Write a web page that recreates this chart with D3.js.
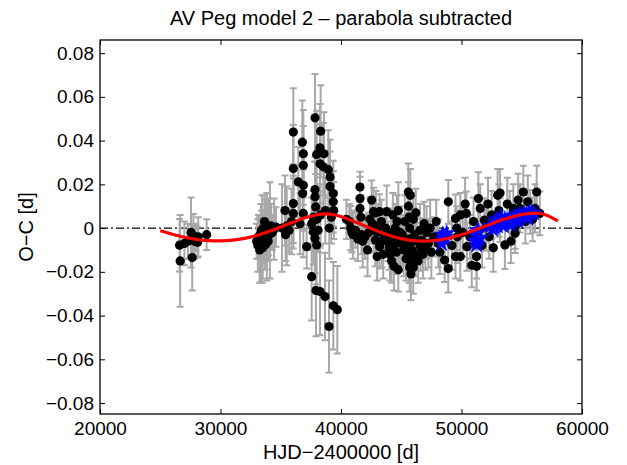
<!DOCTYPE html>
<html>
<head>
<meta charset="utf-8">
<script src="https://cdn.jsdelivr.net/npm/d3@7"></script>
<style>
  html, body { margin: 0; padding: 0; background: #fff; }
  svg { display: block; }
  text { font-family: "Liberation Sans", Arial, Helvetica, sans-serif; fill: #000; }
</style>
</head>
<body>
<svg></svg>
<script>
// Observed minus calculated timings, one row per minimum: [HJD-2400000, O-C, error]
const earlyVisual = [
  [26600, -0.0078, 0.012], [26650, -0.0150, 0.021], [27000, -0.0070, 0.010],
  [27300, -0.0060, 0.008], [27550, -0.0020, 0.016], [27650, -0.0135, 0.015],
  [27750, -0.0035, 0.010], [27850, -0.0060, 0.008], [27950, -0.0045, 0.006],
  [28100, -0.0065, 0.007], [28150, -0.0040, 0.009], [28850, -0.0030, 0.007]
];

const photographic = [
  [33000, -0.0060, 0.008], [33100, -0.0080, 0.012], [33150, -0.0040, 0.010],
  [33250, -0.0100, 0.015], [33300, -0.0030, 0.006], [33350, -0.0070, 0.018],
  [33400, -0.0010, 0.009], [33450, -0.0050, 0.020], [33500, -0.0090, 0.014],
  [33550, 0.0000, 0.008], [33600, -0.0060, 0.010], [33650, 0.0030, 0.012],
  [33700, -0.0030, 0.016], [33750, -0.0075, 0.007], [33800, 0.0010, 0.010],
  [33850, -0.0040, 0.020], [33900, -0.0020, 0.011], [33950, -0.0060, 0.009],
  [34000, 0.0005, 0.013], [34050, -0.0030, 0.006], [34100, -0.0010, 0.022],
  [34200, 0.0010, 0.010], [34300, -0.0020, 0.008], [34450, -0.0005, 0.014],
  [34600, 0.0005, 0.009], [35100, 0.0000, 0.020], [35350, 0.0080, 0.016],
  [35500, 0.0010, 0.018], [35400, -0.0030, 0.012], [35700, -0.0010, 0.010]
];

const scattered = [
  [36044, 0.0439, 0.020], [36044, 0.0272, 0.020], [36044, 0.0112, 0.018],
  [36044, 0.0067, 0.016], [35900, 0.0030, 0.015], [36790, 0.0393, 0.019],
  [36874, 0.0340, 0.020], [36874, 0.0287, 0.018], [36459, 0.0211, 0.016],
  [36874, 0.0196, 0.020], [36820, 0.0158, 0.017], [36874, 0.0067, 0.020],
  [36600, 0.0020, 0.014], [37150, -0.0085, 0.010], [37842, 0.0504, 0.020],
  [38312, 0.0443, 0.021], [38256, 0.0367, 0.020], [37980, 0.0337, 0.020],
  [38590, 0.0340, 0.019], [38256, 0.0294, 0.018], [38533, 0.0280, 0.020],
  [38950, 0.0267, 0.018], [39090, 0.0234, 0.017], [37842, 0.0176, 0.015],
  [37842, 0.0143, 0.016], [37900, 0.0097, 0.015], [39090, 0.0190, 0.016],
  [39363, 0.0158, 0.015], [39363, 0.0120, 0.014], [37565, 0.0020, 0.012],
  [37700, -0.0017, 0.015], [37842, -0.0047, 0.016], [37980, -0.0077, 0.018],
  [39030, 0.0000, 0.014], [38000, 0.0040, 0.012], [38300, 0.0060, 0.014],
  [38700, 0.0080, 0.015], [39200, 0.0050, 0.012], [38100, -0.0010, 0.010],
  [37700, 0.0050, 0.012], [39400, 0.0080, 0.013], [37565, -0.0222, 0.020],
  [37925, -0.0285, 0.021], [38256, -0.0290, 0.020], [38672, -0.0313, 0.020],
  [39363, -0.0355, 0.020], [39695, -0.0373, 0.020], [39003, -0.0450, 0.021]
];

const photoelectric = [
  [41576, 0.0188, 0.007], [41576, 0.0135, 0.010], [41576, 0.0090, 0.011],
  [41650, 0.0050, 0.010], [40450, 0.0040, 0.009], [40700, 0.0030, 0.008],
  [40800, 0.0000, 0.010], [40900, -0.0020, 0.009], [41000, -0.0030, 0.011],
  [41200, -0.0010, 0.008], [41400, -0.0050, 0.010], [41700, -0.0030, 0.009],
  [41800, -0.0060, 0.012], [42000, -0.0040, 0.010], [42300, -0.0020, 0.009],
  [42545, 0.0128, 0.009], [42700, 0.0075, 0.011], [42900, 0.0070, 0.010],
  [43200, 0.0075, 0.008], [42700, -0.0010, 0.010], [42850, -0.0055, 0.012],
  [43200, -0.0085, 0.010], [43500, -0.0120, 0.011], [43790, 0.0075, 0.012],
  [43600, -0.0030, 0.010], [43900, -0.0060, 0.009], [44066, -0.0120, 0.012],
  [44300, -0.0040, 0.010], [44500, 0.0000, 0.011], [44757, 0.0080, 0.013],
  [44757, -0.0190, 0.010], [44900, -0.0020, 0.012], [45000, -0.0070, 0.010],
  [45200, -0.0100, 0.012], [45587, 0.0165, 0.013], [45750, 0.0150, 0.012],
  [45600, 0.0100, 0.011], [45650, 0.0050, 0.012], [45700, 0.0000, 0.010],
  [45600, -0.0050, 0.012], [45700, -0.0080, 0.011], [45650, -0.0120, 0.013],
  [45750, -0.0150, 0.010], [45700, -0.0180, 0.011], [45800, -0.0210, 0.012],
  [45400, -0.0140, 0.010], [46100, -0.0030, 0.012], [46300, -0.0060, 0.011],
  [46550, -0.0010, 0.012], [46700, -0.0055, 0.010], [46600, -0.0085, 0.011],
  [46900, 0.0020, 0.010], [47100, -0.0020, 0.012], [47250, -0.0070, 0.011],
  [47400, 0.0000, 0.013], [47700, -0.0040, 0.009], [48076, -0.0070, 0.011],
  [44200, -0.0150, 0.010], [44400, -0.0175, 0.011], [43000, -0.0130, 0.011],
  [42200, -0.0100, 0.012], [46000, -0.0180, 0.012], [46200, -0.0120, 0.010],
  [44650, 0.0030, 0.012], [43350, 0.0030, 0.010], [42400, 0.0040, 0.010],
  [42600, 0.0020, 0.009], [43000, -0.0020, 0.011], [43100, 0.0010, 0.010],
  [43400, -0.0060, 0.012], [43700, 0.0000, 0.009], [44000, -0.0090, 0.010],
  [44150, -0.0020, 0.011], [44400, -0.0080, 0.012], [44600, -0.0110, 0.010],
  [44850, -0.0050, 0.011], [45100, -0.0030, 0.009], [45300, 0.0030, 0.012],
  [45450, -0.0070, 0.010], [45900, -0.0100, 0.011], [46000, 0.0040, 0.012],
  [46400, -0.0150, 0.010], [46800, -0.0120, 0.011], [47000, -0.0090, 0.010],
  [47500, -0.0110, 0.012], [47900, 0.0030, 0.010], [46200, 0.0070, 0.011],
  [44300, 0.0060, 0.010]
];

const recent = [
  [48906, 0.0120, 0.010], [48600, -0.0146, 0.010], [48900, -0.0185, 0.011],
  [49500, 0.0044, 0.011], [49600, 0.0000, 0.010], [49650, -0.0040, 0.012],
  [49500, -0.0130, 0.010], [49900, -0.0130, 0.011], [50300, 0.0110, 0.012],
  [50400, 0.0067, 0.010], [50450, -0.0085, 0.011], [50850, -0.0170, 0.010],
  [51250, -0.0175, 0.011], [51400, 0.0135, 0.012], [51550, 0.0090, 0.011],
  [51250, -0.0130, 0.010], [51900, 0.0036, 0.010], [52050, 0.0006, 0.011],
  [52640, -0.0090, 0.011], [53000, 0.0150, 0.012], [53200, 0.0160, 0.011],
  [53100, 0.0080, 0.012], [53200, 0.0036, 0.010], [53600, -0.0077, 0.011],
  [54000, 0.0050, 0.012], [54450, 0.0006, 0.010], [54450, -0.0024, 0.009],
  [54700, 0.0128, 0.012], [54850, 0.0090, 0.011], [55130, 0.0165, 0.012],
  [55700, 0.0074, 0.010], [56100, 0.0090, 0.011], [56240, 0.0165, 0.012],
  [56500, 0.0067, 0.010], [52300, -0.0040, 0.010], [50100, -0.0020, 0.011],
  [54100, -0.0060, 0.010], [55300, 0.0030, 0.010], [48200, -0.0110, 0.010],
  [49200, -0.0080, 0.011], [49900, 0.0060, 0.010], [50700, -0.0040, 0.010],
  [51000, 0.0030, 0.011], [51700, -0.0080, 0.010], [52200, 0.0110, 0.012],
  [52500, 0.0060, 0.011], [53800, 0.0110, 0.012], [54300, 0.0090, 0.011],
  [55500, 0.0120, 0.012], [55900, 0.0040, 0.010]
];

// CCD minima (blue stars): [HJD-2400000, O-C]
const ccd = [
  [48350, -0.0070], [48600, -0.0040], [48770, -0.0024], [48500, -0.0050],
  [51150, -0.0030], [51300, -0.0055], [51250, -0.0077], [51400, -0.0020],
  [51500, -0.0045], [51350, -0.0010], [52400, 0.0010], [52600, -0.0005],
  [52800, 0.0020], [53000, 0.0010], [53200, 0.0030], [53400, 0.0020],
  [53600, 0.0040], [53800, 0.0030], [54000, 0.0045], [54200, 0.0035],
  [54400, 0.0055], [54600, 0.0050], [54800, 0.0060], [55000, 0.0055],
  [55200, 0.0065], [55400, 0.0060], [55600, 0.0070], [55800, 0.0065],
  [56000, 0.0070], [53300, 0.0050], [52900, 0.0040], [54100, 0.0015],
  [55500, 0.0045], [52700, 0.0005], [53500, 0.0010], [54700, 0.0030],
  [51200, -0.0060], [48450, -0.0030]
];

// model 2 curve
const fitHjd = [25000, 26000, 27000, 28000, 29000, 30000, 31000, 32000, 33000, 34000,
  35000, 36000, 37000, 38000, 38700, 39500, 40500, 41500, 42500, 43500, 44500,
  45500, 46500, 47500, 48500, 49500, 50500, 51500, 52500, 53500, 54500, 55500,
  56300, 57000, 58000];
const fitOC = [-0.0012, -0.0028, -0.0042, -0.0052, -0.0057, -0.0058, -0.0055, -0.0047,
  -0.0034, -0.0016, 0.0005, 0.0027, 0.0047, 0.0061, 0.0065, 0.0060, 0.0043, 0.0021,
  -0.0002, -0.0024, -0.0042, -0.0054, -0.0059, -0.0058, -0.0051, -0.0038, -0.0021,
  -0.0001, 0.0020, 0.0040, 0.0056, 0.0066, 0.0068, 0.0060, 0.0033];

const xTicks = [20000, 30000, 40000, 50000, 60000];
const yTicks = [-0.08, -0.06, -0.04, -0.02, 0, 0.02, 0.04, 0.06, 0.08];

const width = 627, height = 465;
const margin = { top: 40, right: 45, bottom: 51, left: 100 };
const fontSize = 20;
const tickFontSize = 19;

const svg = d3.select("svg")
    .attr("width", width)
    .attr("height", height);

const x = d3.scaleLinear().domain([20000, 60000]).range([margin.left, width - margin.right]);
const y = d3.scaleLinear().domain([-0.085, 0.086]).range([height - margin.bottom, margin.top]);

// clip to the axes box
svg.append("clipPath").attr("id", "box")
  .append("rect")
    .attr("x", margin.left).attr("y", margin.top)
    .attr("width", width - margin.left - margin.right)
    .attr("height", height - margin.top - margin.bottom);
const plot = svg.append("g").attr("clip-path", "url(#box)");

// zero reference line (dash-dot)
plot.append("line")
    .attr("x1", x(20000)).attr("x2", x(60000))
    .attr("y1", y(0)).attr("y2", y(0))
    .attr("stroke", "#000")
    .attr("stroke-width", 1.4)
    .attr("stroke-dasharray", "8,3,2,3");

const allObs = [].concat(earlyVisual, photographic, scattered, photoelectric, recent);

// error bars
const capW = 3.5;
const bars = plot.append("g")
    .attr("stroke", "#a8a8a8")
    .attr("stroke-width", 2)
    .attr("fill", "none");
allObs.forEach(d => {
  const xp = x(d[0]), y1 = y(d[1] - d[2]), y2 = y(d[1] + d[2]);
  bars.append("path")
      .attr("d", `M${xp},${y1}V${y2}M${xp - capW},${y1}H${xp + capW}M${xp - capW},${y2}H${xp + capW}`);
});

// black points
plot.append("g").selectAll("circle")
  .data(allObs)
  .join("circle")
    .attr("cx", d => x(d[0]))
    .attr("cy", d => y(d[1]))
    .attr("r", 4.6)
    .attr("fill", "#000");

// blue stars
const star = d3.symbol().type(d3.symbolStar).size(85);
plot.append("g").selectAll("path")
  .data(ccd)
  .join("path")
    .attr("transform", d => `translate(${x(d[0])},${y(d[1])})`)
    .attr("d", star)
    .attr("fill", "#0000ff")
    .attr("stroke", "#0000ff")
    .attr("stroke-width", 0.6);

// model curve
const line = d3.line()
    .x((d, i) => x(fitHjd[i]))
    .y(d => y(d))
    .curve(d3.curveCatmullRom);
plot.append("path")
    .attr("d", line(fitOC))
    .attr("fill", "none")
    .attr("stroke", "#ff0000")
    .attr("stroke-width", 3.2);

// axes: ticks inside on all four sides, like a boxed MATLAB plot
const tickLen = 5;
const axisG = svg.append("g");

axisG.append("g")
    .attr("transform", `translate(0,${height - margin.bottom})`)
    .call(d3.axisBottom(x).tickValues(xTicks).tickSizeInner(-tickLen).tickSizeOuter(0).tickPadding(8).tickFormat(d3.format("d")));
axisG.append("g")
    .attr("transform", `translate(0,${margin.top})`)
    .call(d3.axisTop(x).tickValues(xTicks).tickSizeInner(-tickLen).tickSizeOuter(0).tickFormat(""));
axisG.append("g")
    .attr("transform", `translate(${margin.left},0)`)
    .call(d3.axisLeft(y).tickValues(yTicks).tickSizeInner(-tickLen).tickSizeOuter(0).tickPadding(6)
      .tickFormat(d => d === 0 ? "0" : d3.format(".2f")(d).replace("-", "\u2212")));
axisG.append("g")
    .attr("transform", `translate(${width - margin.right},0)`)
    .call(d3.axisRight(y).tickValues(yTicks).tickSizeInner(-tickLen).tickSizeOuter(0).tickFormat(""));

axisG.selectAll(".domain").remove();
axisG.selectAll(".tick line").attr("stroke", "#000").attr("stroke-width", 1);
axisG.selectAll(".tick text")
    .attr("font-family", "Liberation Sans, Arial, sans-serif")
    .attr("font-size", tickFontSize)
    .attr("fill", "#000");

// box
svg.append("rect")
    .attr("x", margin.left).attr("y", margin.top)
    .attr("width", width - margin.left - margin.right)
    .attr("height", height - margin.top - margin.bottom)
    .attr("fill", "none")
    .attr("stroke", "#000")
    .attr("stroke-width", 1.3);

// labels
svg.append("text")
    .attr("x", (margin.left + width - margin.right) / 2)
    .attr("y", 25)
    .attr("text-anchor", "middle")
    .attr("font-size", fontSize)
    .text("AV Peg model 2 \u2013 parabola subtracted");

svg.append("text")
    .attr("x", (margin.left + width - margin.right) / 2)
    .attr("y", 459)
    .attr("text-anchor", "middle")
    .attr("font-size", fontSize)
    .text("HJD\u22122400000 [d]");

svg.append("text")
    .attr("transform", `translate(33,${(margin.top + height - margin.bottom) / 2}) rotate(-90)`)
    .attr("text-anchor", "middle")
    .attr("font-size", fontSize)
    .text("O\u2212C [d]");
</script>
</body>
</html>
